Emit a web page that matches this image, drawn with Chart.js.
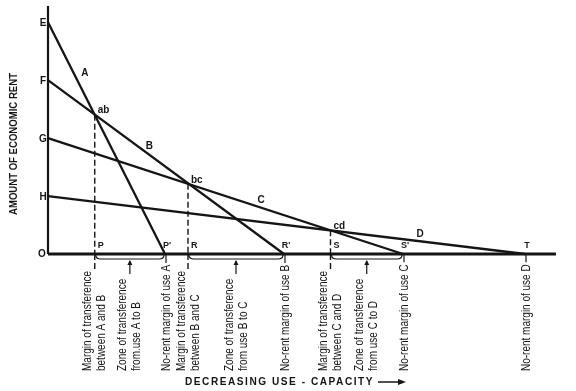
<!DOCTYPE html>
<html>
<head>
<meta charset="utf-8">
<script src="https://cdn.jsdelivr.net/npm/chart.js@4.4.1/dist/chart.umd.min.js"></script>
<style>
  html, body { margin: 0; padding: 0; background: #fff; }
  #wrap { width: 576px; height: 391px; }
</style>
</head>
<body>
<div id="wrap"><canvas id="myChart" width="576" height="391"></canvas></div>
<script>
// four uses of land, rent at zero use-capacity (E, F, G, H) and no-rent margins (P', R', S', T)
const uses = ['A', 'B', 'C', 'D'];
const rentAtOrigin = [100, 75, 50, 25];
const noRentMargin = [23.4, 47.2, 71, 95.4];
const originLabels = ['E', 'F', 'G', 'H'];
const noRentLabels = ["P'", "R'", "S'", 'T'];

// margins of transference (ab, bc, cd) and their points on the axis (P, R, S)
const transferX = [9.35, 28.0, 56.5];
const transferY = [60.1, 30.3, 10.2];
const transferLabels = ['ab', 'bc', 'cd'];
const marginLabels = ['P', 'R', 'S'];

const xMax = 101.6;
const yMax = 107;
const ink = '#151515';

const datasets = [];
// axes
datasets.push({ data: [{ x: 0, y: 0 }, { x: 0, y: yMax }], borderWidth: 2.2 });
datasets.push({ data: [{ x: 0, y: 0 }, { x: xMax, y: 0 }], borderWidth: 3 });
// rent lines for each use
uses.forEach((u, i) => {
  datasets.push({
    label: u,
    data: [{ x: 0, y: rentAtOrigin[i] }, { x: noRentMargin[i], y: 0 }],
    borderWidth: 2.3
  });
});
// dashed drops from the intersections
transferX.forEach((tx, i) => {
  datasets.push({
    label: transferLabels[i],
    data: [{ x: tx, y: transferY[i] }, { x: tx, y: 0 }],
    borderWidth: 1.4,
    borderDash: [6, 3]
  });
});
datasets.forEach(d => {
  d.showLine = true;
  d.borderColor = ink;
  d.pointRadius = 0;
  d.clip = false;
});

// where the use letters sit along their lines, and a nudge in pixels
const useLabelAt = [0.22, 0.43, 0.60, 0.78];
const useLabelNudge = [[11, 0], [0, -9], [0, -7], [0, -7]];

function vText(ctx, text, x, y, k) {
  ctx.save();
  ctx.translate(x, y);
  ctx.rotate(-Math.PI / 2);
  ctx.scale(k, 1);
  ctx.textAlign = 'left';
  ctx.textBaseline = 'middle';
  ctx.fillText(text, 0, 0);
  ctx.restore();
}

const annotate = {
  id: 'annotate',
  afterDatasetsDraw(chart) {
    const { ctx, scales: { x, y } } = chart;
    const x0 = x.getPixelForValue(0);
    const y0 = y.getPixelForValue(0);
    ctx.save();
    ctx.fillStyle = ink;
    ctx.strokeStyle = ink;

    // letters
    ctx.font = 'bold 10px "Liberation Sans", Arial, sans-serif';
    ctx.textAlign = 'center';
    ctx.textBaseline = 'middle';
    originLabels.forEach((l, i) => ctx.fillText(l, x0 - 5, y.getPixelForValue(rentAtOrigin[i]) + 1));
    ctx.fillText('O', x0 - 6, y0);
    uses.forEach((u, i) => {
      const t = useLabelAt[i];
      const px = x.getPixelForValue(t * noRentMargin[i]) + useLabelNudge[i][0];
      const py = y.getPixelForValue(rentAtOrigin[i] * (1 - t)) + useLabelNudge[i][1];
      ctx.fillText(u, px, py);
    });
    ctx.textAlign = 'left';
    transferLabels.forEach((l, i) => {
      ctx.fillText(l, x.getPixelForValue(transferX[i]) + 3, y.getPixelForValue(transferY[i]) - 4);
    });
    ctx.font = 'bold 9px "Liberation Sans", Arial, sans-serif';
    marginLabels.forEach((l, i) => ctx.fillText(l, x.getPixelForValue(transferX[i]) + 3, y0 - 8));
    ctx.textAlign = 'center';
    noRentLabels.forEach((l, i) => ctx.fillText(l, x.getPixelForValue(noRentMargin[i]) + 2, y0 - 8));

    // text under the axis
    ctx.font = '13px "Liberation Sans Narrow", "Liberation Sans", Arial, sans-serif';
    const k = 100 / ctx.measureText('Margin of transference').width;
    const base = y0 + 117;
    for (let i = 0; i < 3; i++) {
      const a = uses[i], b = uses[i + 1];
      const xm = x.getPixelForValue(transferX[i]);
      const xn = x.getPixelForValue(noRentMargin[i]);
      const mid = (xm + xn) / 2;
      vText(ctx, 'Margin of transference', xm - 7, base, k);
      vText(ctx, 'between ' + a + ' and ' + b, xm + 7, base, k);
      vText(ctx, 'Zone of transference', mid - 7, base, k);
      vText(ctx, (i === 0 ? 'from.use ' : 'from use ') + a + ' to ' + b, mid + 7, base, k);
      vText(ctx, 'No-rent margin of use ' + a, xn + 1, base, k);

      // dashed drop continues below the axis
      ctx.lineWidth = 1.4;
      ctx.setLineDash([6, 3]);
      ctx.beginPath();
      ctx.moveTo(xm, y0);
      ctx.lineTo(xm, y0 + 18);
      ctx.stroke();
      ctx.setLineDash([]);

      // leader to the no-rent label
      const len = ctx.measureText('No-rent margin of use ' + a).width * k;
      ctx.lineWidth = 1.2;
      ctx.beginPath();
      ctx.moveTo(xn + 1, y0);
      ctx.lineTo(xn + 1, base - len - 2);
      ctx.stroke();

      // bracket with an arrow from the zone text
      const by = y0 + 5;
      ctx.lineWidth = 1.2;
      ctx.beginPath();
      ctx.moveTo(xm + 1, y0 + 1);
      ctx.quadraticCurveTo(xm + 1, by, xm + 6, by);
      ctx.lineTo(xn - 6, by);
      ctx.quadraticCurveTo(xn - 1, by, xn - 1, y0 + 1);
      ctx.stroke();
      ctx.beginPath();
      ctx.moveTo(mid, by + 2);
      ctx.lineTo(mid, by + 15);
      ctx.stroke();
      ctx.beginPath();
      ctx.moveTo(mid, by + 1);
      ctx.lineTo(mid - 2.5, by + 6);
      ctx.lineTo(mid + 2.5, by + 6);
      ctx.closePath();
      ctx.fill();
    }
    const xd = x.getPixelForValue(noRentMargin[3]);
    vText(ctx, 'No-rent margin of use D', xd + 1, base, k);
    const lenD = ctx.measureText('No-rent margin of use D').width * k;
    ctx.beginPath();
    ctx.moveTo(xd + 1, y0);
    ctx.lineTo(xd + 1, base - lenD - 2);
    ctx.stroke();

    // axis titles
    ctx.font = 'bold 11px "Liberation Sans Narrow", "Liberation Sans", Arial, sans-serif';
    const ky = 142 / ctx.measureText('AMOUNT OF ECONOMIC RENT').width;
    ctx.save();
    ctx.translate(14, 215);
    ctx.rotate(-Math.PI / 2);
    ctx.scale(ky, 1);
    ctx.textAlign = 'left';
    ctx.textBaseline = 'middle';
    ctx.fillText('AMOUNT OF ECONOMIC RENT', 0, 0);
    ctx.restore();

    ctx.font = 'bold 10px "Liberation Sans", Arial, sans-serif';
    ctx.letterSpacing = '1.5px';
    const title = 'DECREASING USE - CAPACITY';
    const kx = 189 / ctx.measureText(title).width;
    ctx.save();
    ctx.translate(185, 382);
    ctx.scale(kx, 1);
    ctx.textAlign = 'left';
    ctx.textBaseline = 'middle';
    ctx.fillText(title, 0, 0);
    ctx.restore();
    ctx.letterSpacing = '0px';
    ctx.lineWidth = 1.5;
    ctx.beginPath();
    ctx.moveTo(378, 382);
    ctx.lineTo(400, 382);
    ctx.stroke();
    ctx.beginPath();
    ctx.moveTo(406, 382);
    ctx.lineTo(398, 379);
    ctx.lineTo(398, 385);
    ctx.closePath();
    ctx.fill();

    ctx.restore();
  }
};

const ctx = document.getElementById('myChart').getContext('2d');
const chart = new Chart(ctx, {
  type: 'scatter',
  data: { datasets },
  options: {
    responsive: false,
    animation: false,
    devicePixelRatio: 1,
    layout: { padding: { left: 48, right: 20, top: 6, bottom: 137 } },
    plugins: { legend: { display: false }, tooltip: { enabled: false } },
    scales: {
      x: { type: 'linear', min: 0, max: xMax, display: false },
      y: { type: 'linear', min: 0, max: yMax, display: false }
    }
  },
  plugins: [annotate]
});
</script>
</body>
</html>
